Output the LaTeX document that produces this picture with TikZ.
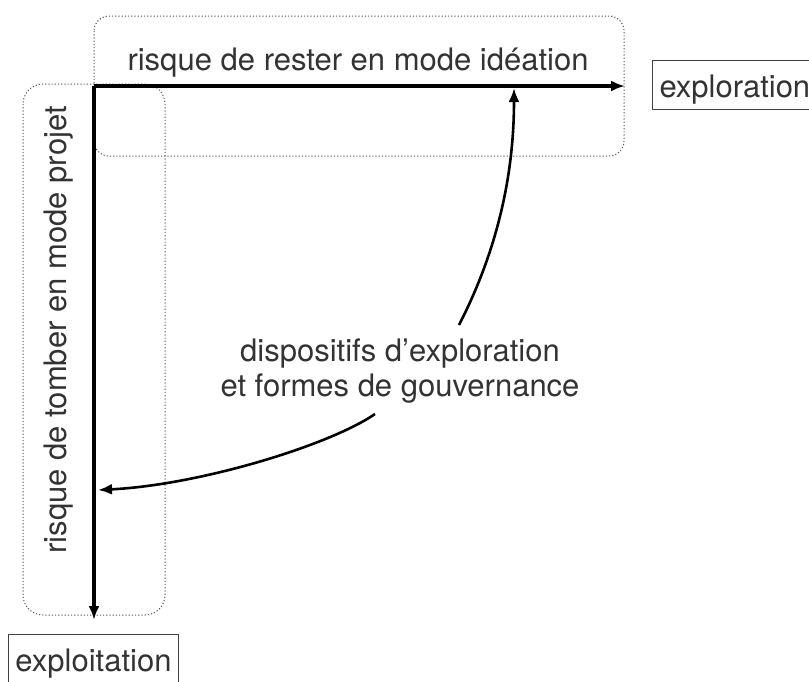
\documentclass[tikz,border=0pt]{standalone}
\usepackage{fontspec}
\setmainfont{TeX Gyre Heros}
\usetikzlibrary{arrows.meta}

\begin{document}
\begin{tikzpicture}[x=1pt,y=-1pt,
    txt/.style={text=black!80,font=\fontsize{31}{35}\selectfont,inner sep=0pt},
    pole/.style={txt,draw=black!75,line width=1pt,inner xsep=7pt,inner ysep=0pt,text height=37pt,text depth=12pt,anchor=base west},
    zone/.style={draw=black!65,line width=1pt,dash pattern=on 1.2pt off 2pt},
    axis/.style={line width=3.2pt,-{Latex[length=14pt,width=11pt]}},
    link/.style={line width=2.6pt,-{Latex[length=14pt,width=11pt]}}]
\useasboundingbox (0,0) rectangle (809,681);
\draw[zone,rounded corners=15pt] (94,16) rectangle (624,156);
\draw[zone,rounded corners=20pt] (23,84) rectangle (165,615);
\coordinate (origin) at (94,86);
\coordinate (x end) at (625,86);
\coordinate (y end) at (94,620);
\draw[axis] (origin) -- (x end);
\draw[axis] (origin) -- (y end);
\node[txt,anchor=base] (ideation) at (358,70) {risque de rester en mode idéation};
\node[txt,anchor=base,rotate=90] (projet) at (66,330) {risque de tomber en mode projet};
\node[pole] (exploration) at (652,97) {exploration};
\node[pole] (exploitation) at (8,671) {exploitation};
\node[txt,align=center] (dispositifs) at (400,371) {dispositifs d’exploration\\et formes de gouvernance};
\coordinate (up from) at (459,325);
\coordinate (up to) at (514,88);
\coordinate (left from) at (375,414);
\coordinate (left to) at (98,490);
\draw[link] (up from) .. controls (495,255) and (514,180) .. (up to);
\draw[link] (left from) .. controls (330,445) and (200,485) .. (left to);
\end{tikzpicture}
\end{document}
